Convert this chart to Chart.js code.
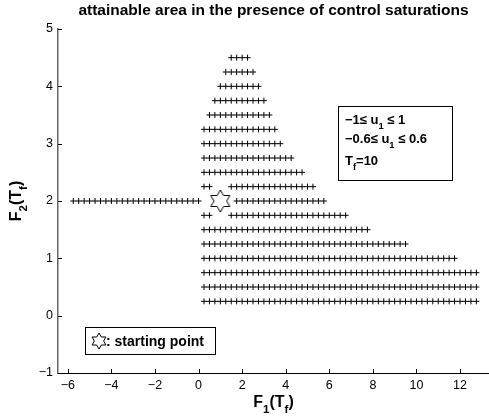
<!DOCTYPE html>
<html><head><meta charset="utf-8">
<script src="https://cdn.jsdelivr.net/npm/chart.js@4/dist/chart.umd.min.js"></script>
<style>html,body{margin:0;padding:0;background:#fff}#wrap{width:489px;height:419px}</style>
</head><body><div id="wrap"><canvas id="c" width="489" height="419"></canvas></div>
<script>
// ---- data ----
// each segment: a row of "+" markers at height F2, from F1 = start to F1 = end on a 0.25 grid
const segF2    = [4.5, 4.25, 4.0, 3.75, 3.5, 3.25, 3.0, 2.75, 2.5, 2.25, 2.25, 2.0, 2.0, 1.75, 1.75, 1.5, 1.25, 1.0, 0.75, 0.5, 0.25];
const segStart = [1.5, 1.25, 1.0, 0.75, 0.5, 0.25, 0.25, 0.25, 0.25, 0.25, 1.5, -5.75, 1.75, 0.25, 1.5, 0.25, 0.25, 0.25, 0.25, 0.25, 0.25];
const segEnd   = [2.25, 2.5, 2.75, 3.0, 3.25, 3.5, 3.75, 4.25, 4.75, 0.5, 5.25, 0, 5.75, 0.5, 6.75, 7.75, 9.5, 11.75, 12.75, 12.75, 12.75];
const gridStep = 0.25;
const startF1 = [1];
const startF2 = [2];
const xTicks = [-6, -4, -2, 0, 2, 4, 6, 8, 10, 12];
const yTicks = [-1, 0, 1, 2, 3, 4, 5];
const titleText = 'attainable area in the presence of control saturations';
const legendText = ': starting point';
const noteLines = [
  [{t:'\u22121\u2264 u'}, {t:'1', sub:true}, {t:' \u2264 1'}],
  [{t:'\u22120.6\u2264 u'}, {t:'1', sub:true}, {t:' \u2264 0.6'}],
  [{t:'T'}, {t:'f', sub:true}, {t:'=10'}]
];
const xLabel = [{t:'F'}, {t:'1', sub:true}, {t:'(T'}, {t:'f', sub:true}, {t:')'}];
const yLabel = [{t:'F'}, {t:'2', sub:true}, {t:'(T'}, {t:'f', sub:true}, {t:')'}];

// ---- build marker list from the read segments ----
const attainable = [];
segF2.forEach((f2, i) => {
  const n = Math.round((segEnd[i] - segStart[i]) / gridStep);
  for (let k = 0; k <= n; k++) attainable.push({x: segStart[i] + k * gridStep, y: f2});
});
const startPts = startF1.map((v, i) => ({x: v, y: startF2[i]}));

const FONT = '"Liberation Sans", Arial, Helvetica, sans-serif';

function hexagram(R, lw) {
  const s = Math.ceil(2 * R + 4);
  const cv = document.createElement('canvas');
  cv.width = s; cv.height = s;
  const g = cv.getContext('2d');
  strokeHex(g, s / 2, s / 2, R, lw);
  return cv;
}
function strokeHex(g, cx, cy, R, lw) {
  const r = R / Math.sqrt(3);
  g.beginPath();
  for (let k = 0; k < 12; k++) {
    const ang = -Math.PI / 2 + k * Math.PI / 6;
    const rad = (k % 2 === 0) ? R : r;
    const px = cx + rad * Math.cos(ang), py = cy + rad * Math.sin(ang);
    if (k === 0) g.moveTo(px, py); else g.lineTo(px, py);
  }
  g.closePath();
  g.fillStyle = '#fff';
  g.fill();
  g.lineWidth = lw;
  g.strokeStyle = '#000';
  g.stroke();
}

function richWidth(ctx, parts, size) {
  let w = 0;
  parts.forEach(p => {
    ctx.font = 'bold ' + (p.sub ? size * 0.72 : size) + 'px ' + FONT;
    w += ctx.measureText(p.t).width;
  });
  return w;
}
function drawRich(ctx, parts, x, y, size) {
  let cx = x;
  ctx.textBaseline = 'alphabetic';
  ctx.textAlign = 'left';
  parts.forEach(p => {
    const fs = p.sub ? size * 0.72 : size;
    ctx.font = 'bold ' + fs + 'px ' + FONT;
    ctx.fillText(p.t, cx, p.sub ? y + size * 0.38 : y);
    cx += ctx.measureText(p.t).width;
  });
}

const decor = {
  id: 'decor',
  afterDraw(chart) {
    const ctx = chart.ctx;
    const xs = chart.scales.x, ys = chart.scales.y;
    const a = chart.chartArea;
    ctx.save();
    // inward tick marks
    ctx.strokeStyle = '#000';
    ctx.lineWidth = 1;
    ctx.beginPath();
    xTicks.forEach(v => {
      const px = Math.round(xs.getPixelForValue(v)) + 0.5;
      ctx.moveTo(px, a.bottom); ctx.lineTo(px, a.bottom - 4);
    });
    yTicks.forEach(v => {
      const py = Math.round(ys.getPixelForValue(v)) + 0.5;
      ctx.moveTo(a.left, py); ctx.lineTo(a.left + 4, py);
    });
    ctx.stroke();

    // annotation box
    ctx.fillStyle = '#fff';
    ctx.fillRect(338.5, 106.5, 114, 74);
    ctx.strokeRect(338.5, 106.5, 114, 74);
    ctx.fillStyle = '#000';
    const base = [124, 143, 165];
    noteLines.forEach((ln, i) => drawRich(ctx, ln, 345, base[i], 13));

    // legend box
    ctx.fillStyle = '#fff';
    ctx.fillRect(85.5, 327.5, 130, 27);
    ctx.strokeRect(85.5, 327.5, 130, 27);
    strokeHex(ctx, 99, 341, 8, 1);
    ctx.fillStyle = '#000';
    ctx.font = 'bold 14px ' + FONT;
    ctx.textBaseline = 'alphabetic';
    ctx.textAlign = 'left';
    ctx.fillText(legendText, 106, 346);

    // axis labels
    const cxm = (a.left + a.right) / 2;
    const wX = richWidth(ctx, xLabel, 16);
    drawRich(ctx, xLabel, cxm - wX / 2, 407, 16);
    const cym = (a.top + a.bottom) / 2;
    const wY = richWidth(ctx, yLabel, 16);
    ctx.translate(21, cym);
    ctx.rotate(-Math.PI / 2);
    drawRich(ctx, yLabel, -wY / 2, 0, 16);
    ctx.restore();
  }
};

const minus = v => String(v).replace('-', '\u2212');

new Chart(document.getElementById('c'), {
  type: 'scatter',
  data: {
    datasets: [
      {label: 'attainable area', data: attainable, pointStyle: 'cross', pointRadius: 3,
       borderColor: '#000', backgroundColor: '#000', borderWidth: 1, showLine: false},
      {label: 'starting point', data: startPts, pointStyle: hexagram(11, 1), pointRadius: 11,
       borderColor: '#000', showLine: false}
    ]
  },
  options: {
    responsive: false,
    animation: false,
    devicePixelRatio: 1,
    events: [],
    layout: {autoPadding: false, padding: {left: 0, right: 0, top: 0, bottom: 0}},
    plugins: {
      legend: {display: false},
      tooltip: {enabled: false},
      title: {display: true, text: titleText, fullSize: false, color: '#000',
              font: {family: FONT, size: 15.5, weight: 'bold'}, padding: {top: 1, bottom: 9.4}}
    },
    scales: {
      x: {
        type: 'linear', min: -6.45, max: 13.33,
        afterBuildTicks: s => { s.ticks = xTicks.map(v => ({value: v})); },
        afterFit: s => { s.height = 46; s.paddingLeft = 0; s.paddingRight = 0; },
        grid: {display: false, drawTicks: false},
        border: {display: true, color: '#000', width: 1},
        ticks: {color: '#000', padding: 5, font: {family: FONT, size: 12.5}, callback: minus}
      },
      y: {
        type: 'linear', min: -1, max: 5,
        afterBuildTicks: s => { s.ticks = yTicks.map(v => ({value: v})); },
        afterFit: s => { s.width = 58; },
        grid: {display: false, drawTicks: false},
        border: {display: true, color: '#666', width: 1.5},
        ticks: {color: '#000', padding: 5, font: {family: FONT, size: 12.5}, callback: minus}
      }
    }
  },
  plugins: [decor]
});
</script></body></html>
